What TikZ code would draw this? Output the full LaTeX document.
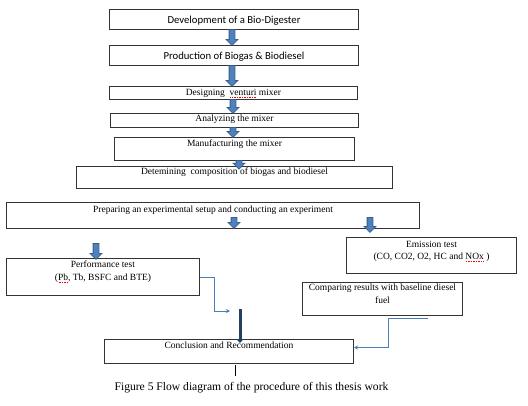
\documentclass[tikz,border=0pt]{standalone}
\usepackage{fontspec}
\setmainfont{Liberation Serif}
\newfontfamily\calibri{Carlito}
\usetikzlibrary{shapes.arrows,arrows.meta}
\definecolor{arrowfill}{HTML}{4F81BD}
\definecolor{arrowedge}{HTML}{385D8A}
\definecolor{linkblue}{HTML}{4A7EBB}
\definecolor{barblue}{HTML}{243F60}
\newsavebox\spellbox
\newcommand\spellerr[1]{\sbox\spellbox{#1}\rlap{\raisebox{-2.4pt}{\textcolor{red}{\hbox to \wd\spellbox{\xleaders\hbox to 1.6pt{\hss\rule{0.8pt}{0.8pt}\hss}\hfil}}}}\usebox\spellbox}
\tikzset{
	box/.style n args={3}{draw=black!80,line width=1pt,inner sep=0pt,anchor=north west,
		execute at begin node={\begin{minipage}[t][#2pt][t]{#1pt}\centering\vspace*{#3pt}\strut},
		execute at end node={\end{minipage}}},
	cal/.style={font=\calibri\fontsize{10.7}{13}\selectfont},
	tms/.style={font=\fontsize{9.5}{#1}\selectfont},
	tms/.default=13,
	barrow/.style={single arrow,draw=arrowedge,fill=arrowfill,line width=0.8pt,
		inner sep=2.5pt,single arrow head extend=3pt,rotate=-90,anchor=tail,
		minimum height=#1},
	link/.style={draw=linkblue,line width=0.8pt,-{Stealth[length=4pt,width=4pt]}}
}
\begin{document}
\begin{tikzpicture}[x=1pt,y=-1pt]
	\useasboundingbox (0,0) rectangle (528,405);

	\node [box={249}{20}{4.4},cal] (dev) at (109,9) {Development of a Bio-Digester};
	\node [box={249}{20}{4.4},cal] (prod) at (109,45) {Production of Biogas \& Biodiesel};
	\node [box={248}{13}{0},tms] (venturi) at (109,86) {Designing\ \ \spellerr{venturi} mixer};
	\node [box={248}{14}{-1.1},tms] (analyze) at (110,113) {Analyzing the mixer};
	\node [box={240}{23}{0},tms] (manuf) at (114,137) {Manufacturing the mixer};
	\node [box={316}{22}{-1.1},tms] (determ) at (76,166) {Detemining\ \ composition of biogas and biodiesel};
	\node [box={413}{26}{0.9},tms] (prep) at (6,202) {Preparing an experimental setup and conducting an experiment};
	\node [box={193}{37}{0},tms] (perf) at (6,258) {Performance test\\(\spellerr{Pb}, Tb, BSFC and BTE)};
	\node [box={170}{36}{1.9},tms=12] (emis) at (346,237) {Emission test\\(CO, CO2, O2, HC and \spellerr{NOx} )};
	\node [box={160}{33}{-1.1},tms] (comp) at (302,282) {Comparing results with baseline diesel\\fuel};
	\node [box={249}{24}{0},tms] (concl) at (104,339) {Conclusion and Recommendation};

	% block arrows
	\node [barrow=16] (a1) at (232,29) {};
	\node [barrow=21] (a2) at (232,65) {};
	\node [barrow=14] (a3) at (233,99) {};
	\node [barrow=10] (a4) at (233,127) {};
	\node [barrow=8] (a5) at (239,160) {};
	\node [barrow=11] (a6) at (234,217) {};
	\node [barrow=15] (a7) at (370,217) {};
	\node [barrow=16] (a8) at (96,243) {};

	% thin links
	\coordinate (p1) at (230,311);
	\draw [link] (perf.east) -- ++(14,0) |- (p1);
	\coordinate (p2) at (428,318);
	\draw [link] (p2) -- (388,318) |- ([yshift=4pt]concl.east);

	\coordinate (bar) at (240,309);
	\draw [barblue,line width=3pt,-{Triangle[length=4pt,width=7pt]}] (bar) -- ([yshift=-4pt]bar |- concl.north);
	\draw [line width=1pt] (235,365) -- (235,376);

	\node [font=\fontsize{11.6}{13}\selectfont] (caption) at (251.5,388) {Figure 5 Flow diagram of the procedure of this thesis work};
\end{tikzpicture}
\end{document}
